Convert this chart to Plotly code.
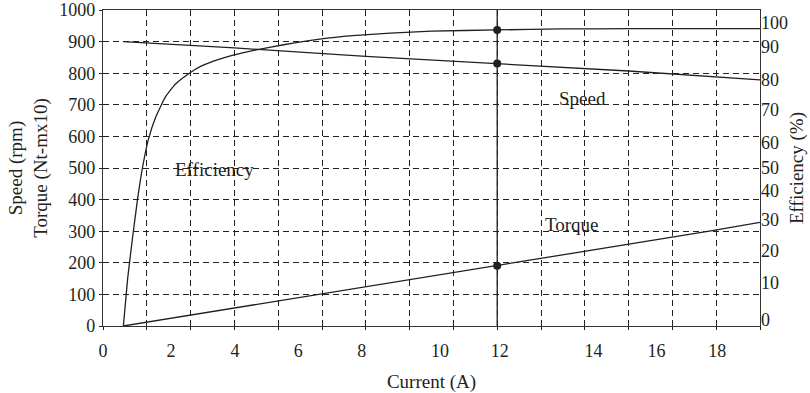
import plotly.graph_objects as go

# ---- data ----
current_speed = [0.62, 4, 8, 12, 16, 20]
speed_rpm = [900, 880, 853, 831, 807, 779]

current_torque = [0.62, 12, 18.5, 20]
torque_ntm_x10 = [0, 191, 301, 328]

current_eff = [0.62, 0.75, 0.90, 1.05, 1.20, 1.38, 1.60, 1.90, 2.20, 2.63, 3.0,
               3.5, 4.0, 4.63, 5.5, 6.6, 7.6, 8.74, 10, 12, 14, 16, 18, 20]
efficiency_pct = [0, 15, 28, 40, 50, 59, 66, 72.5, 76.5, 80, 82.3,
                  84.3, 85.8, 87.3, 89, 90.8, 91.9, 92.7, 93.3, 93.7, 94, 94.1, 94.1, 94.1]

operating_current = 12
operating_speed = 831
operating_torque = 191
operating_eff = 93.7

# tick labels (positions as printed in the reference)
x_tick_text = ["0", "2", "4", "6", "8", "10", "12", "14", "16", "18"]
x_tick_pos = [0, 2.07, 4.02, 5.94, 7.88, 10.26, 12.08, 14.93, 16.85, 18.7]
left_tick_vals = [0, 100, 200, 300, 400, 500, 600, 700, 800, 900, 1000]
right_tick_text = ["0", "10", "20", "30", "40", "50", "60", "70", "80", "90", "100"]
right_tick_pos = [2.1, 13.7, 23.7, 33.7, 42.7, 50.1, 58.0, 68.5, 78.0, 88.5, 95.9]

INK = "#231f20"
FONT = "Liberation Serif"

fig = go.Figure()
line_style = dict(color=INK, width=1.3)

fig.add_trace(go.Scatter(x=current_speed, y=speed_rpm, mode="lines",
                         line=line_style, showlegend=False, hoverinfo="skip"))
fig.add_trace(go.Scatter(x=current_torque, y=torque_ntm_x10, mode="lines",
                         line=line_style, showlegend=False, hoverinfo="skip"))
fig.add_trace(go.Scatter(x=current_eff, y=efficiency_pct, mode="lines", yaxis="y2",
                         line=dict(color=INK, width=1.3, shape="spline", smoothing=0.4),
                         showlegend=False, hoverinfo="skip"))
fig.add_trace(go.Scatter(x=[operating_current, operating_current], y=[0, 1000], mode="lines",
                         line=line_style, showlegend=False, hoverinfo="skip"))
fig.add_trace(go.Scatter(x=[operating_current, operating_current],
                         y=[operating_speed, operating_torque], mode="markers",
                         marker=dict(color=INK, size=8), showlegend=False, hoverinfo="skip"))
fig.add_trace(go.Scatter(x=[operating_current], y=[operating_eff], mode="markers", yaxis="y2",
                         marker=dict(color=INK, size=8), showlegend=False, hoverinfo="skip"))

grid = dict(gridcolor=INK, gridwidth=1, griddash="6px,4px")

fig.update_layout(
    width=810, height=393,
    margin=dict(l=103, r=50, t=10, b=67),
    paper_bgcolor="white", plot_bgcolor="white",
    font=dict(family=FONT, size=18, color=INK),
    xaxis=dict(
        range=[0, 20], tickmode="array", tickvals=x_tick_pos, ticktext=x_tick_text,
        ticks="", showgrid=False, zeroline=False,
        showline=True, linecolor="#333333", linewidth=1.3, mirror=True,
        minor=dict(tick0=0, dtick=4 / 3, showgrid=True, ticks="outside", ticklen=3,
                   tickcolor=INK, **grid),
        ticklabelstandoff=8,
        title=dict(text="Current (A)", font=dict(size=19), standoff=15),
        automargin=False,
    ),
    yaxis=dict(
        range=[0, 1000], tickmode="array", tickvals=left_tick_vals,
        ticks="outside", ticklen=3, tickcolor=INK, showgrid=True, zeroline=False,
        showline=True, linecolor="#333333", linewidth=1.3, mirror=True,
        title=dict(text="Speed (rpm)<br>Torque (Nt-mx10)", font=dict(size=19), standoff=6),
        automargin=False, **grid,
    ),
    yaxis2=dict(
        range=[0, 100], overlaying="y", side="right", tickmode="array",
        tickvals=right_tick_pos, ticktext=right_tick_text, ticks="",
        showgrid=False, zeroline=False, showline=False,
        title=dict(text="Efficiency (%)", font=dict(size=19), standoff=2),
        automargin=False,
    ),
    annotations=[
        dict(x=14.6, y=721, xref="x", yref="y", text="Speed", showarrow=False,
             font=dict(size=19)),
        dict(x=14.27, y=320, xref="x", yref="y", text="Torque", showarrow=False,
             font=dict(size=19)),
        dict(x=3.38, y=494, xref="x", yref="y", text="Efficiency", showarrow=False,
             font=dict(size=19)),
    ],
)

fig.write_html("out.html")
